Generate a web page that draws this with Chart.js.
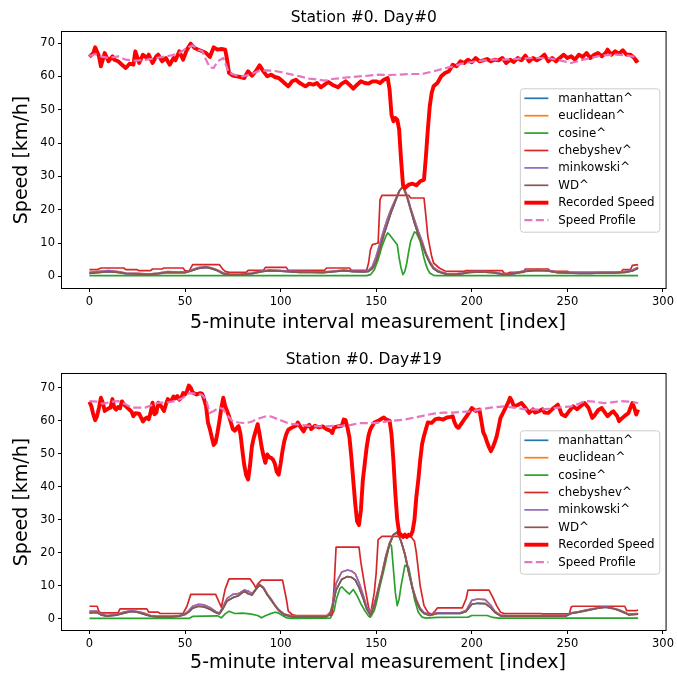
<!DOCTYPE html>
<html>
<head>
<meta charset="utf-8">
<title>Station #0 - speed estimates</title>
<script src="https://cdn.jsdelivr.net/npm/chart.js@4.4.0/dist/chart.umd.min.js"></script>
<style>
  html, body { margin: 0; padding: 0; background: #fff; overflow: hidden; }
  #wrap { position: relative; width: 677px; height: 675px; }
  #wrap canvas { position: absolute; left: 0; }
</style>
</head>
<body>
<div id="wrap">
  <canvas id="day0" width="677" height="337" style="top:0"></canvas>
  <canvas id="day19" width="677" height="338" style="top:337px"></canvas>
</div>
<script>
// ============================================
// Station #0 - recorded speed vs. profile + distance estimates
// each series is a list of [interval index, value]
// ============================================

const FONT = '"DejaVu Sans", sans-serif';

const xTicks = [0, 50, 100, 150, 200, 250, 300];
const yTicks = [0, 10, 20, 30, 40, 50, 60, 70];
const seriesLabels = ['manhattan^', 'euclidean^', 'cosine^', 'chebyshev^', 'minkowski^', 'WD^', 'Recorded Speed', 'Speed Profile'];

// ---------- Day #0 ----------
const day0Speed = [[0,65.8],[2,67],[3,68.7],[5,66],[6,63],[8,67],[10,64.5],[12,66],[13,65],[15,64.5],[17,63.5],[19,62.5],[21,63.8],[23,63.5],[24,67.5],[26,64],[28,66.5],[30,65.5],[31,66.5],[33,64],[35,66],[36,66.5],[38,64.5],[40,65.5],[42,63.5],[44,65.5],[45,64.8],[47,67.5],[49,65],[51,68],[53,69.8],[55,68.5],[57,68],[59,67.5],[61,67],[63,65.8],[65,68.7],[67,68],[69,68.2],[71,68],[72,65],[73,61],[75,60.2],[77,60],[79,59.8],[81,59.5],[83,61.5],[85,60.2],[87,61.5],[89,63.3],[91,61.5],[93,60],[95,60.5],[97,59.8],[99,59.5],[101,58.5],[103,57.5],[104,57],[106,58.5],[108,59],[110,58],[113,57],[115,57.8],[117,57.5],[119,58],[121,56.7],[123,57.5],[125,58.3],[127,57.5],[130,56.7],[132,57.8],[134,58.5],[136,57.5],[138,56.3],[140,57.5],[142,58.5],[144,58],[146,57.8],[148,58.5],[150,58.5],[152,58],[154,59],[156,59.5],[157,56],[158,48.5],[159,46.5],[160,47.5],[161,47],[162,44],[163,35],[164,27.5],[165,26.5],[167,27.5],[169,27.8],[171,27.3],[173,28.5],[175,29],[176,36],[177,44],[178,51],[179,55],[180,57],[182,58],[184,60],[186,61],[188,61.5],[190,63.5],[192,63],[194,64.5],[196,64],[198,65],[200,64.2],[202,65.5],[204,64.5],[206,64.8],[208,65.2],[210,64.5],[212,65],[214,64.8],[216,65.5],[218,64],[220,65],[222,64.3],[224,65.5],[226,64.8],[228,66.2],[230,64.5],[232,65.5],[234,64.8],[236,65.5],[238,66.5],[240,64.5],[242,65.5],[244,64.5],[246,65.5],[248,66.5],[250,65.5],[252,66],[254,65],[256,66.5],[258,65.8],[260,67],[262,65.5],[264,66.5],[266,67],[268,66],[270,67],[271,68],[273,66.5],[275,67.5],[277,66.8],[279,67.8],[281,66.5],[283,66.5],[285,65.5],[286,64.5],[287,65]];

const day0Profile = [[0,66],[3,66.7],[6,66],[10,65.5],[15,66],[19,65],[24,64.7],[30,65],[35,65.5],[43,66.3],[47,67],[51,68.5],[54,69.3],[57,68],[59,67.5],[61,65],[63,62.7],[65,62.5],[67,64.5],[70,65.5],[71,64],[73,61],[77,60.3],[80,60],[84,60.5],[88,61.5],[92,61.8],[96,61.7],[100,61.3],[106,60.5],[110,60],[115,59.3],[120,59],[123,58.7],[127,59.2],[132,59.5],[137,59.8],[141,60],[146,60.2],[151,60.5],[156,60.4],[162,60.5],[168,60.7],[174,60.7],[180,61.5],[185,62.3],[190,63],[195,63.8],[200,64.3],[205,64.7],[210,65],[217,65],[225,65.3],[232,65.5],[240,65.5],[246,64.8],[252,64],[257,64.8],[262,65.5],[269,66.3],[275,66.5],[280,66.3],[284,66],[287,65.5]];

const day0Chebyshev = [[0,2],[4,2],[6,2.5],[18,2.5],[19,2],[25,2],[26,1.7],[32,1.7],[33,2.2],[38,2.2],[39,2.5],[49,2.5],[50,1.7],[52,1.5],[54,3.5],[68,3.5],[70,2],[71,1.5],[73,1.2],[82,1.2],[83,1.8],[91,1.8],[92,2.7],[103,2.7],[104,1.8],[123,1.8],[124,2.5],[136,2.5],[137,1.8],[145,1.8],[146,4],[147,8],[148,9.5],[151,10],[152,23],[153,24.3],[167,24.3],[168,23.5],[175,23.5],[176,18],[177,12],[179,6],[180,4],[183,2.5],[186,1.6],[188,1.5],[196,1.5],[197,1.7],[216,1.7],[217,0.9],[219,1],[220,1.2],[227,1.2],[228,2.2],[240,2.2],[241,1.5],[250,1.5],[251,1.2],[278,1.2],[279,2],[283,2],[284,3.3],[287,3.5]];

const day0Minkowski = [[0,1.2],[4,1.4],[10,1.7],[15,1.4],[19,1],[25,0.9],[31,0.7],[36,1],[41,1.4],[46,1.3],[50,1.3],[53,1.8],[57,2.6],[61,2.9],[64,2.5],[67,1.9],[70,1],[73,0.7],[78,0.6],[85,1],[90,1.6],[94,1.9],[98,1.8],[104,1.6],[110,1.4],[116,1.4],[122,1.3],[128,1.6],[133,1.9],[138,1.6],[144,1.5],[146,1.8],[148,3],[150,6],[152,10],[154,14],[156,17.5],[158,20.5],[160,23],[162,25.5],[164,27],[166,24.5],[168,20.5],[170,17],[172,13.5],[174,10.5],[176,7],[178,4.5],[180,2.7],[182,1.8],[184,1.3],[187,0.8],[191,0.7],[195,1],[199,1.4],[205,1.5],[211,1.3],[215,0.9],[218,0.7],[222,1],[228,1.7],[234,2],[240,1.8],[245,1.3],[250,1.2],[256,1.1],[262,1.1],[268,1.2],[274,1.2],[280,1.4],[284,1.9],[287,2.7]];

const day0WD = [[0,0.9],[4,1.1],[10,1.4],[15,1.2],[19,0.8],[25,0.7],[31,0.5],[36,0.8],[41,1.2],[46,1.1],[50,1.1],[53,1.6],[57,2.4],[61,2.7],[64,2.3],[67,1.7],[70,0.8],[73,0.5],[78,0.4],[85,0.8],[90,1.4],[94,1.7],[98,1.6],[104,1.4],[110,1.2],[116,1.2],[122,1.1],[128,1.4],[133,1.7],[138,1.4],[144,1.3],[146,1.5],[148,2.3],[150,4.5],[152,8.5],[154,12.5],[156,16],[158,19.5],[160,22.5],[162,25.5],[164,27],[166,24],[168,20],[170,16],[172,12.5],[174,9.5],[176,6.5],[178,4],[180,2.3],[182,1.5],[184,1.1],[187,0.6],[191,0.5],[195,0.8],[199,1.2],[205,1.3],[211,1.1],[215,0.7],[218,0.5],[222,0.8],[228,1.5],[234,1.8],[240,1.6],[245,1.1],[250,1],[256,0.9],[262,0.9],[268,1],[274,1],[280,1.2],[284,1.6],[287,2.4]];

const day0Cosine = [[0,0.2],[145,0.2],[147,0.5],[149,2],[151,5],[153,9],[155,12],[156,13],[157,12.5],[159,11],[161,9.5],[162,5.5],[163,2.5],[164,0.5],[165,1.5],[166,4],[167,7.5],[168,10.5],[170,13.3],[171,13],[173,10.5],[174,8],[175,5.5],[176,3.5],[177,2],[178,1],[180,0.3],[182,0.2],[287,0.2]];

// manhattan / euclidean sit under WD / minkowski
const day0Manhattan = day0WD;
const day0Euclidean = day0Minkowski;

// ---------- Day #19 ----------
const day19Speed = [[0,65.8],[1,64.4],[2,62],[3,60.2],[4,61.5],[5,64],[6,67],[7,65.5],[8,63],[10,63.8],[11,64],[12,66.6],[13,64],[14,63.4],[15,64.2],[16,63.8],[17,65.9],[18,65],[20,63.9],[22,62.8],[23,61.4],[24,62.3],[26,62.2],[27,61],[28,59.8],[29,60.6],[30,61],[31,60.5],[32,62.5],[33,65.5],[34,62],[35,62.5],[36,65.5],[37,64.8],[38,64],[39,63],[40,65],[41,66.6],[42,66],[43,66.3],[44,67.4],[45,66.8],[46,67.5],[47,66.4],[48,67],[49,68.4],[50,68],[51,69],[52,70.7],[53,70],[54,68.6],[56,68],[58,68.4],[59,68.2],[60,66.5],[61,64.4],[62,59.5],[63,57.5],[64,55],[65,52.7],[66,53.5],[67,56.5],[68,60],[69,64],[70,67],[71,64.5],[72,63],[73,61.4],[74,59.5],[75,57.5],[76,57],[77,57.8],[78,58.4],[79,56],[80,51],[81,46.5],[82,43.5],[83,42.2],[84,46.5],[85,52.3],[86,55],[87,57],[88,59],[89,56],[90,52.3],[91,49.5],[92,47.3],[93,49.8],[94,49],[95,48.8],[96,48.3],[97,47],[98,44.5],[99,43.7],[100,47],[101,51],[102,54],[103,56],[104,57.3],[106,58],[108,58.5],[109,59.5],[110,58.5],[112,56.8],[113,58],[115,58.8],[116,57.5],[118,58.5],[120,58],[122,58.3],[124,57.5],[126,57],[127,56.3],[128,58],[130,58.3],[132,58.5],[133,60.4],[134,60.2],[135,57.9],[136,55],[137,49],[138,42],[139,35],[140,29.5],[141,28.4],[142,33],[143,42],[144,47],[145,52],[146,55.6],[147,57.5],[148,58.5],[149,59.5],[151,60],[153,60.7],[154,61],[155,60.5],[157,60],[158,56],[159,48],[160,38],[161,30],[162,26],[163,25.5],[164,24.8],[165,25.5],[166,24.8],[167,25.5],[168,25.2],[169,26.5],[170,30],[171,37],[172,42],[173,48],[174,53],[175,55.5],[176,57.5],[177,59.5],[179,59.4],[181,60.5],[183,60.7],[185,60.4],[187,61],[189,61.2],[190,61.4],[191,59.5],[192,58.3],[193,57.9],[195,59.5],[196,60.4],[198,62],[200,63.9],[202,63],[204,63.4],[205,60],[206,56.5],[207,55.3],[208,53.5],[209,52],[210,50.8],[211,52],[212,53.5],[213,55.3],[214,58],[215,60.9],[216,62],[218,64.4],[219,65.5],[220,67],[221,66],[222,64.4],[224,64.8],[226,65.4],[228,64],[230,62.4],[232,63.5],[233,62.5],[235,62.9],[237,63.5],[238,62.5],[240,62.4],[242,63.5],[244,64.4],[245,64.9],[246,63.5],[247,62],[249,61.4],[251,63],[253,64.4],[255,63.5],[257,64.5],[259,65.4],[261,64],[262,62.5],[263,60.9],[264,61.5],[266,63.2],[268,63.9],[269,63],[271,61.4],[273,62.5],[274,62.9],[276,61.5],[277,59.9],[278,60.5],[280,61.5],[282,62.4],[283,64],[284,65.4],[285,64],[286,61.9],[287,63.4]];

const day19Profile = [[0,66],[4,65.8],[7,65.2],[12,65.8],[15,66],[19,65],[22,64],[29,64],[33,64.8],[36,65.5],[40,65.5],[45,66],[49,67],[52,68.4],[57,68.2],[59,67.8],[61,66.5],[63,62.4],[65,63],[68,64],[70,63.5],[72,61.8],[75,59.8],[78,59.5],[82,59.3],[85,59.8],[89,60.8],[93,61.5],[95,61.3],[99,60.4],[103,59.5],[106,59.1],[110,58.8],[115,58.5],[120,58.3],[124,58.3],[128,58.5],[132,58.5],[137,58.8],[141,59.3],[145,59.3],[148,59.3],[152,59.5],[158,60],[165,60.4],[170,61],[175,61.6],[180,62.2],[185,62.5],[190,62.5],[195,62.7],[200,62.9],[205,63.5],[210,64],[217,64.4],[222,64],[228,63.5],[235,63.4],[240,63.6],[245,64],[252,64.4],[256,65.2],[259,66],[264,65.8],[269,65.4],[273,65.6],[278,66],[282,65.8],[285,65.6],[287,65.4]];

const day19Chebyshev = [[0,3.8],[4,3.8],[5,2.2],[6,1.8],[15,1.8],[16,3],[30,3],[31,2],[36,2],[37,1.6],[49,1.6],[51,3.8],[53,7.4],[66,7.4],[69,3.5],[71,9],[73,12.1],[84,12.1],[86,10.5],[87,9.4],[88,10.5],[90,11.7],[101,11.7],[103,6],[104,2.3],[106,1.3],[108,1],[126,1],[127,1.3],[128,10],[129,21.7],[141,21.7],[142,17],[144,10],[146,3.5],[147,1.3],[149,8],[150,14],[151,24],[153,25],[168,25],[170,23.5],[171,20],[173,10],[175,4],[177,2],[179,1.3],[181,2.5],[182,3.3],[195,3.3],[197,6],[198,8.7],[209,8.7],[211,6.5],[213,4],[215,2],[217,1.6],[236,1.6],[237,1.5],[251,1.5],[252,3.6],[253,3.8],[280,3.8],[281,2.5],[286,2.5],[287,2.6]];

const day19Minkowski = [[0,2.3],[4,2.3],[6,1.5],[9,1],[14,1.3],[18,2],[22,2.5],[25,2.2],[28,1.8],[32,1],[35,0.8],[43,0.8],[47,1],[50,1.5],[52,2.5],[54,3.8],[57,4.4],[60,4.2],[63,3.4],[66,2.2],[68,1.7],[70,3.8],[72,6.2],[75,7.4],[78,7.6],[81,8.7],[83,8.4],[85,7.6],[87,9],[89,10.4],[91,9.5],[93,7.5],[95,6],[97,4.2],[99,2.8],[102,1.4],[106,0.8],[124,0.8],[126,2],[127,4],[129,10.7],[132,14.2],[135,14.8],[137,14.5],[139,13.7],[141,11],[143,7.5],[145,3.6],[147,1.8],[149,4.5],[151,9],[153,13.7],[155,19],[157,23],[159,25.5],[161,26],[163,23.5],[165,19.8],[167,14.5],[169,9.5],[171,5.8],[173,3.2],[175,1.9],[178,1.2],[182,1.8],[194,1.8],[197,2.5],[200,5.6],[203,6],[207,5.8],[210,4],[212,2.3],[215,1.1],[218,1],[249,1],[252,1.8],[256,2.2],[261,2.8],[266,3.3],[270,3.6],[274,3.2],[277,2.7],[280,2],[282,1.4],[287,1.6]];

const day19WD = [[0,1.8],[4,1.9],[6,1.2],[9,0.8],[14,1.1],[18,1.7],[22,2.2],[25,2],[28,1.5],[32,0.8],[35,0.6],[43,0.6],[47,0.8],[50,1.3],[52,2.1],[54,3.2],[57,3.8],[60,3.6],[63,2.9],[66,1.9],[68,1.5],[70,3.2],[72,5.4],[75,6.4],[78,7],[81,8.4],[83,7.6],[85,7.2],[87,8.8],[89,10.3],[91,9.3],[93,7.3],[95,5.7],[97,4],[99,2.5],[102,1.2],[106,0.6],[124,0.6],[126,1.5],[127,3.2],[129,8.7],[132,12],[135,12.8],[137,12.6],[139,11.8],[141,9.5],[143,6.5],[145,3],[147,1],[149,4],[151,8.5],[153,13.2],[155,18.5],[157,22.5],[159,25.5],[161,26.3],[163,23.5],[165,19.5],[167,14],[169,9],[171,5.3],[173,2.8],[175,1.6],[178,1],[182,1.6],[194,1.6],[197,2.2],[200,4.4],[203,4.7],[207,4.6],[210,3.3],[212,2],[215,0.9],[218,0.8],[249,0.8],[252,1.6],[256,2],[261,2.6],[266,3.2],[270,3.5],[274,3.1],[277,2.5],[280,1.8],[282,1.2],[287,1.4]];

const day19Cosine = [[0,0.1],[52,0.1],[54,0.7],[67,0.9],[69,0.3],[71,1.5],[73,2.3],[76,1.6],[80,1.7],[84,1.5],[88,1],[90,0.3],[92,0.9],[94,1.4],[97,2],[99,1.7],[101,1],[103,0.3],[106,0.1],[126,0.2],[128,2.5],[129,5.6],[131,9.2],[132,9.7],[134,8.5],[136,7.5],[138,8.9],[140,7],[142,4.5],[144,2.5],[146,0.8],[147,0.5],[149,2.5],[150,4.6],[152,10],[154,14.8],[156,20],[157,23],[158,22],[159,15],[160,8],[161,4],[162,6],[163,10],[165,16.2],[167,15.6],[169,9.5],[170,6],[172,2],[174,0.5],[176,0.2],[182,0.4],[198,0.5],[200,1],[208,1],[211,0.4],[214,0.2],[287,0.2]];

const day19Manhattan = day19WD;
const day19Euclidean = day19Minkowski;

// line styles, same order as seriesLabels (matplotlib tab10 + red / pink)
const lineStyles = [
    { color: '#1f77b4', width: 1.7 },
    { color: '#ff7f0e', width: 1.7 },
    { color: '#2ca02c', width: 1.7 },
    { color: '#d62728', width: 1.7 },
    { color: '#9467bd', width: 1.7 },
    { color: '#8c564b', width: 1.7 },
    { color: '#ff0000', width: 3.9 },
    { color: '#e377c2', width: 2.2, dash: [8, 3.5] }
];

// frame, title, axis labels and legend drawn on top of the lines
const panelDecor = {
    id: 'panelDecor',
    afterDraw(chart) {
        const { ctx, chartArea: a } = chart;
        const opts = chart.options.plugins.panelDecor;
        ctx.save();

        ctx.strokeStyle = '#000';
        ctx.lineWidth = 1;
        ctx.strokeRect(a.left - 0.5, a.top - 0.5, a.right - a.left + 1, a.bottom - a.top + 1);

        ctx.fillStyle = '#000';
        ctx.textBaseline = 'middle';
        ctx.textAlign = 'center';
        ctx.font = '15.5px ' + FONT;
        ctx.fillText(opts.title, (a.left + a.right) / 2, a.top - 14);

        ctx.font = '19px ' + FONT;
        ctx.fillText('5-minute interval measurement [index]', 378, a.bottom + opts.xLabelGap);
        ctx.save();
        ctx.translate(22, (a.top + a.bottom) / 2);
        ctx.rotate(-Math.PI / 2);
        ctx.fillText('Speed [km/h]', 0, 0);
        ctx.restore();

        // legend, centre right
        const rowH = 17.4, w = 139.4, h = 143.4;
        const x = a.right - 6.3 - w;
        const y = (a.top + a.bottom) / 2 - h / 2;
        ctx.beginPath();
        ctx.roundRect(x + 0.5, y + 0.5, w, h, 3);
        ctx.fillStyle = 'rgba(255,255,255,0.8)';
        ctx.fill();
        ctx.strokeStyle = '#cccccc';
        ctx.lineWidth = 1;
        ctx.stroke();

        ctx.font = '11.8px ' + FONT;
        ctx.textAlign = 'left';
        seriesLabels.forEach((label, k) => {
            const st = lineStyles[k];
            const cy = y + 10 + k * rowH;
            ctx.beginPath();
            ctx.setLineDash(st.dash || []);
            ctx.strokeStyle = st.color;
            ctx.lineWidth = st.width;
            ctx.moveTo(x + 4.5, cy);
            ctx.lineTo(x + 28.5, cy);
            ctx.stroke();
            ctx.setLineDash([]);
            ctx.fillStyle = '#000';
            ctx.fillText(label, x + 38.5, cy + 0.5);
        });
        ctx.restore();
    }
};

function makePanel(canvasId, title, series, yRange, layout) {
    const n = series.length;
    const datasets = series.map((pts, k) => ({
        label: seriesLabels[k],
        data: pts.map(p => ({ x: p[0], y: p[1] })),
        borderColor: lineStyles[k].color,
        borderWidth: lineStyles[k].width,
        borderDash: lineStyles[k].dash || [],
        borderJoinStyle: 'round',
        pointRadius: 0,
        tension: 0,
        fill: false,
        // later series on top, like the original plotting order
        order: n - k
    }));

    const tickFont = { family: FONT, size: 11.5 };
    const tickGrid = { drawOnChartArea: false, drawTicks: true, tickLength: 4, tickColor: '#000', tickWidth: 1 };

    return new Chart(document.getElementById(canvasId), {
        type: 'line',
        data: { datasets },
        options: {
            responsive: false,
            animation: false,
            devicePixelRatio: 1,
            layout: { padding: { left: 0, right: 9, top: layout.top, bottom: 0 } },
            plugins: {
                legend: { display: false },
                tooltip: { enabled: false },
                panelDecor: { title, xLabelGap: layout.xLabelGap }
            },
            scales: {
                x: {
                    type: 'linear',
                    bounds: 'data',
                    min: -14.35,
                    max: 301.35,
                    afterBuildTicks: s => { s.ticks = xTicks.map(v => ({ value: v })); },
                    afterFit: s => { s.height = layout.xAxisH; },
                    grid: tickGrid,
                    border: { display: false },
                    ticks: { color: '#000', font: tickFont, padding: 3, autoSkip: false, maxRotation: 0 }
                },
                y: {
                    type: 'linear',
                    bounds: 'data',
                    min: yRange[0],
                    max: yRange[1],
                    afterBuildTicks: s => { s.ticks = yTicks.map(v => ({ value: v })); },
                    afterFit: s => { s.width = 62; },
                    grid: tickGrid,
                    border: { display: false },
                    ticks: { color: '#000', font: tickFont, padding: 3 }
                }
            }
        },
        plugins: [panelDecor]
    });
}

makePanel('day0', 'Station #0. Day#0',
    [day0Manhattan, day0Euclidean, day0Cosine, day0Chebyshev, day0Minkowski, day0WD, day0Speed, day0Profile],
    [-3.5, 73.3], { top: 32, xAxisH: 49, xLabelGap: 35 });

makePanel('day19', 'Station #0. Day#19',
    [day19Manhattan, day19Euclidean, day19Cosine, day19Chebyshev, day19Minkowski, day19WD, day19Speed, day19Profile],
    [-3.4, 74.2], { top: 37, xAxisH: 45, xLabelGap: 33 });
</script>
</body>
</html>
